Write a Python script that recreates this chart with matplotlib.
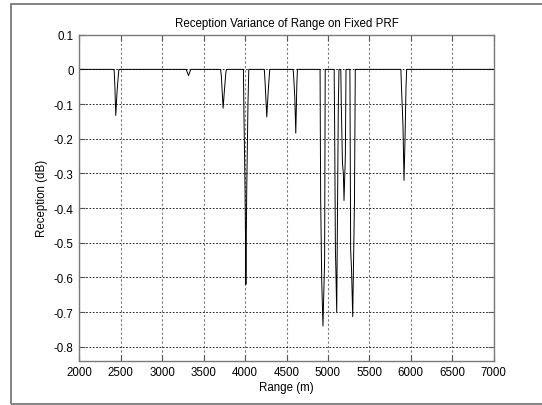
import matplotlib
matplotlib.use("Agg")
import matplotlib.pyplot as plt
from matplotlib.patches import Rectangle

# ---- data ----
range_m = [2000,
           2420, 2428, 2440, 2455, 2470, 2478,
           3290, 3318, 3345,
           3705, 3714, 3735, 3752, 3768, 3775,
           3980, 3988, 3998, 4005, 4010, 4020, 4035, 4045,
           4232, 4240, 4262, 4280, 4298,
           4578, 4584, 4600, 4612, 4625, 4632,
           4905, 4912, 4925, 4940, 4960, 4967,
           5075, 5081, 5090, 5095, 5106, 5125, 5133,
           5155, 5161, 5175, 5186, 5194, 5210, 5218,
           5265, 5274, 5285, 5299, 5320, 5330,
           5880, 5887, 5905, 5918, 5930, 5942, 5950,
           7000]
reception_db = [0.0,
                0.0, -0.04, -0.133, -0.066, -0.02, 0.0,
                0.0, -0.018, 0.0,
                0.0, -0.02, -0.112, -0.057, -0.01, 0.0,
                0.0, -0.152, -0.31, -0.47, -0.62, -0.35, -0.10, 0.0,
                0.0, -0.03, -0.137, -0.06, 0.0,
                0.0, -0.01, -0.08, -0.184, -0.042, 0.0,
                0.0, -0.37, -0.61, -0.74, -0.55, 0.0,
                0.0, -0.17, -0.52, -0.57, -0.70, -0.11, 0.0,
                0.0, -0.10, -0.27, -0.30, -0.378, -0.25, 0.0,
                0.0, -0.52, -0.58, -0.713, -0.38, 0.0,
                0.0, -0.05, -0.16, -0.32, -0.20, -0.05, 0.0,
                0.0]
x_ticks = [2000, 2500, 3000, 3500, 4000, 4500, 5000, 5500, 6000, 6500, 7000]
y_ticks = [0.1, 0, -0.1, -0.2, -0.3, -0.4, -0.5, -0.6, -0.7, -0.8]
y_tick_labels = ["0.1", "0", "-0.1", "-0.2", "-0.3", "-0.4", "-0.5", "-0.6", "-0.7", "-0.8"]

plt.rcParams['font.family'] = ['Liberation Sans', 'DejaVu Sans']
plt.rcParams['font.size'] = 8.3

fig = plt.figure(figsize=(5.42, 4.06), dpi=100)
fig.patch.set_facecolor('white')

# outer frame
fig.patches.append(Rectangle((11 / 542, 1 / 406), 1.2, (405.0 - 5.3) / 406,
                             transform=fig.transFigure, fill=False,
                             edgecolor='#6e6e6e', linewidth=1.2))

ax = fig.add_axes([79.3 / 542, (406 - 361.7) / 406, (493.7 - 79.3) / 542, (361.7 - 35.7) / 406])
ax.plot(range_m, reception_db, color='black', linewidth=0.7)

ax.set_xlim(2000, 7000)
ax.set_ylim(-0.84, 0.1)
ax.set_xticks(x_ticks)
ax.set_xticklabels([str(t) for t in x_ticks])
ax.set_yticks(y_ticks)
ax.set_yticklabels(y_tick_labels)

ax.tick_params(direction='in', length=4, width=0.8, top=True, right=True,
               colors='#555555', labelcolor='black', pad=4)
for s in ax.spines.values():
    s.set_color('#7a7a7a')
    s.set_linewidth(1.0)

ax.xaxis.grid(True, color='#777777', linestyle=(0, (2, 2)), linewidth=0.8)
ax.yaxis.grid(True, color='black', linestyle=(0, (2, 2)), linewidth=0.6)
ax.set_axisbelow(True)

ax.set_title("Reception Variance of Range on Fixed PRF", fontsize=8.3, pad=6)
ax.set_xlabel("Range (m)", labelpad=2)
ax.set_ylabel("Reception (dB)", labelpad=4)

fig.savefig("out.png", dpi=100)
